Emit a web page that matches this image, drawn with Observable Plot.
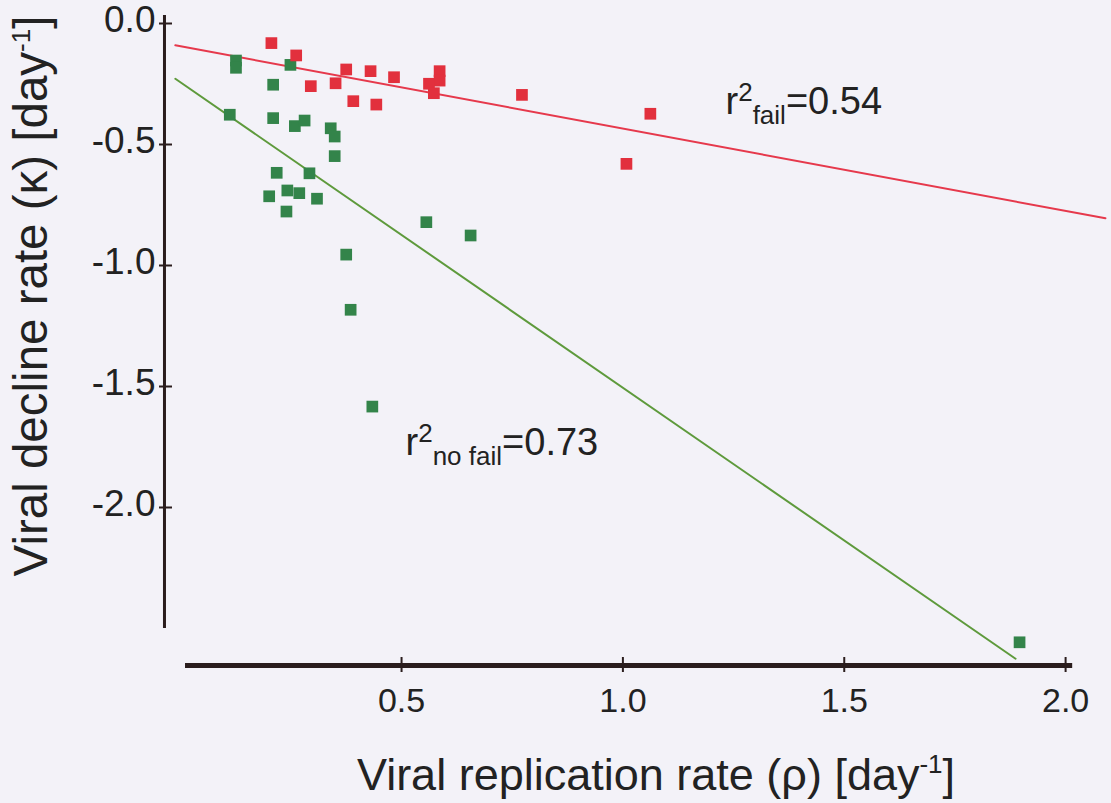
<!DOCTYPE html>
<html>
<head>
<meta charset="utf-8">
<script src="https://cdn.jsdelivr.net/npm/d3@7"></script>
<script src="https://cdn.jsdelivr.net/npm/@observablehq/plot@0.6"></script>
<style>
  html, body { margin: 0; padding: 0; background: #f3f2f8; }
  #chart svg { display: block; }
</style>
</head>
<body>
<div id="chart"></div>
<script>
// ---- Data ----
// "fail" group (red squares): viral replication rate rho vs decline rate kappa
const failRho = [0.206, 0.262, 0.375, 0.430, 0.483, 0.586, 0.586, 0.562, 0.573, 0.295, 0.351, 0.391, 0.443, 0.772, 1.062, 1.008];
const failKappa = [-0.081, -0.132, -0.190, -0.197, -0.222, -0.197, -0.236, -0.249, -0.288, -0.259, -0.247, -0.321, -0.335, -0.295, -0.373, -0.580];
// "no fail" group (green squares)
const noFailRho = [0.126, 0.126, 0.249, 0.210, 0.112, 0.210, 0.259, 0.281, 0.340, 0.349, 0.349, 0.218, 0.292, 0.201, 0.242, 0.269, 0.309, 0.240, 0.556, 0.656, 0.375, 0.385, 0.434, 1.896];
const noFailKappa = [-0.153, -0.183, -0.171, -0.253, -0.377, -0.391, -0.424, -0.401, -0.433, -0.467, -0.548, -0.617, -0.619, -0.714, -0.690, -0.701, -0.724, -0.777, -0.821, -0.876, -0.955, -1.183, -1.583, -2.557];
// regression line end points (as drawn)
const failLineRho = [-0.011, 2.09];
const failLineKappa = [-0.09, -0.805];
const noFailLineRho = [-0.011, 1.887];
const noFailLineKappa = [-0.2285, -2.625];
// ticks
const xTicks = [0.5, 1.0, 1.5, 2.0];
const xTickLabels = ["0.5", "1.0", "1.5", "2.0"];
const yTicks = [0.0, -0.5, -1.0, -1.5, -2.0];
const yTickLabels = ["0.0", "-0.5", "-1.0", "-1.5", "-2.0"];
// annotations
const annotations = [
  {rho: 1.2318, kappa: -0.376, base: "r", sup: "2", sub: "fail", tail: "=0.54"},
  {rho: 0.509, kappa: -1.785, base: "r", sup: "2", sub: "no fail", tail: "=0.73"}
];
const xTitle = "Viral replication rate (\u03c1) [day-1]";
const yTitle = "Viral decline rate (\u03ba) [day-1]";

// ---- Layout (axis geometry) ----
const PX0 = 179.7, PXU = 442.7;   // pixel of rho=0, pixels per unit
const PY0 = 23, PYU = 242;        // pixel of kappa=0, pixels per unit
const W = 1111, H = 803;
const yAxisAt = -0.0355, yAxisTop = 0.033, yAxisBottom = -2.5;
const xAxisAt = -2.653, xAxisStart = 0.012, xAxisEnd = 2.016;

const fail = failRho.map((r, i) => ({rho: r, kappa: failKappa[i]}));
const noFail = noFailRho.map((r, i) => ({rho: r, kappa: noFailKappa[i]}));
const failLine = failLineRho.map((r, i) => ({rho: r, kappa: failLineKappa[i]}));
const noFailLine = noFailLineRho.map((r, i) => ({rho: r, kappa: noFailLineKappa[i]}));

const ink = "#222222";
const axisInk = "#2a1d1d";
const font = "'Liberation Sans', Arial, Helvetica, sans-serif";

const chart = Plot.plot({
  width: W, height: H, margin: 0,
  x: {domain: [-PX0 / PXU, (W - PX0) / PXU], axis: null},
  y: {domain: [-(H - PY0) / PYU, PY0 / PYU], axis: null},
  style: {background: "transparent", fontFamily: font, color: ink},
  marks: [
    // axis lines
    Plot.ruleX([yAxisAt], {x: d => d, y1: yAxisTop, y2: yAxisBottom, stroke: axisInk, strokeWidth: 3}),
    Plot.ruleY([xAxisAt], {y: d => d, x1: xAxisStart, x2: xAxisEnd, stroke: axisInk, strokeWidth: 5}),
    // ticks
    Plot.ruleY(yTicks, {y: d => d, x1: yAxisAt, x2: yAxisAt, insetLeft: -5, insetRight: -8, stroke: axisInk, strokeWidth: 2}),
    Plot.ruleX(xTicks, {x: d => d, y1: xAxisAt, y2: xAxisAt, insetTop: -8, insetBottom: -7, stroke: axisInk, strokeWidth: 2}),
    // tick labels
    Plot.text(xTicks, {x: d => d, y: xAxisAt, text: (d, i) => xTickLabels[i], dy: 36, fontSize: 34, fill: ink, lineAnchor: "middle"}),
    Plot.text(yTicks, {x: yAxisAt, y: d => d, text: (d, i) => yTickLabels[i], dx: -9, dy: -3, textAnchor: "end", fontSize: 37, fill: ink, lineAnchor: "middle"}),
    // regression lines
    Plot.line(failLine, {x: "rho", y: "kappa", stroke: "#e6394c", strokeWidth: 2}),
    Plot.line(noFailLine, {x: "rho", y: "kappa", stroke: "#5e9a3c", strokeWidth: 2}),
    // points
    Plot.dot(noFail, {x: "rho", y: "kappa", symbol: "square", r: 6.6, fill: "#33844a", stroke: "none"}),
    Plot.dot(fail, {x: "rho", y: "kappa", symbol: "square", r: 6.6, fill: "#e2303d", stroke: "none"}),
    // annotations
    Plot.text(annotations, {x: "rho", y: "kappa", text: d => d.base + d.sup + d.sub + d.tail, textAnchor: "start", lineAnchor: "bottom", fontSize: 38, fill: ink}),
    // axis titles
    Plot.text([xTitle], {frameAnchor: "bottom", text: d => d, dx: 100, dy: -14, textAnchor: "middle", lineAnchor: "bottom", fontSize: 45, fill: ink}),
    Plot.text([yTitle], {frameAnchor: "left", text: d => d, rotate: -90, dx: 31, dy: -106, textAnchor: "middle", lineAnchor: "middle", fontSize: 47.5, fill: ink})
  ]
});

document.getElementById("chart").appendChild(chart);

// ---- rich text (superscripts / subscripts) ----
const svg = d3.select(chart);
function rebuild(node, parts) {
  const t = d3.select(node);
  t.text(null);
  parts.forEach(p => {
    const s = t.append("tspan").text(p.t);
    if (p.size) s.attr("font-size", p.size);
    if (p.dy) s.attr("dy", p.dy);
  });
}
svg.selectAll("text").each(function () {
  const c = this.textContent;
  const ann = annotations.find(a => a.base + a.sup + a.sub + a.tail === c);
  if (ann) {
    rebuild(this, [
      {t: ann.base},
      {t: ann.sup, size: 26, dy: -13},
      {t: ann.sub, size: 26, dy: 23},
      {t: ann.tail, dy: -10}
    ]);
  } else if (c === xTitle || c === yTitle) {
    rebuild(this, [
      {t: c.slice(0, -3)},
      {t: "-1", size: 26, dy: -17},
      {t: "]", dy: 17}
    ]);
  }
});
</script>
</body>
</html>
